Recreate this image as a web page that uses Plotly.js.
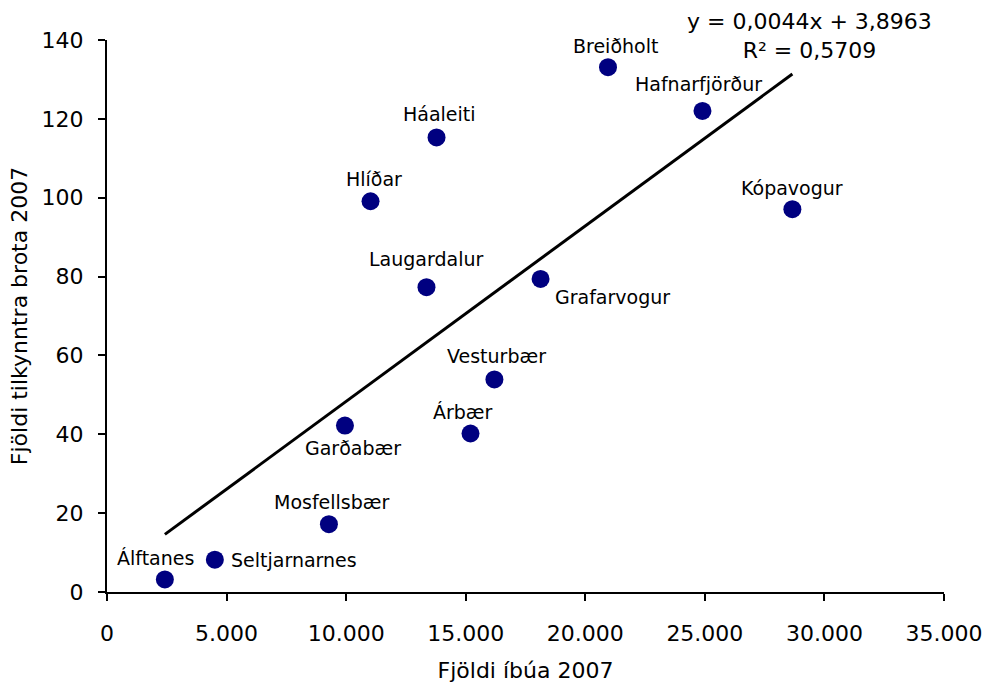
<!DOCTYPE html>
<html>
<head>
<meta charset="utf-8">
<script src="https://cdn.plot.ly/plotly-3.0.1.min.js"></script>
<style>html,body{margin:0;padding:0;background:#fff;}#chart{width:985px;height:687px;}</style>
</head>
<body>
<div id="chart"></div>
<script>
// ---- data ----
var areas = ["Álftanes","Seltjarnarnes","Mosfellsbær","Garðabær","Árbær","Vesturbær","Breiðholt","Háaleiti","Hlíðar","Laugardalur","Grafarvogur","Hafnarfjörður","Kópavogur"];
var residents = [2420, 4510, 9280, 9950, 15200, 16200, 20950, 13780, 11020, 13360, 18130, 24900, 28660];
var offences  = [3.2, 8.2, 17.2, 42.2, 40.2, 53.9, 133.1, 115.3, 99.1, 77.3, 79.4, 122.0, 97.1];
var equationText = "y = 0,0044x + 3,8963<br>R² = 0,5709";
var xTitle = "Fjöldi íbúa 2007";
var yTitle = "Fjöldi tilkynntra brota 2007";

// ---- label placement (style only) ----
var labelShift = [
  {dx:-9, dy:21.6, anchor:"center"},
  {dx:14, dy:0, anchor:"left"},
  {dx:3, dy:22, anchor:"center"},
  {dx:8, dy:-22.6, anchor:"center"},
  {dx:-8, dy:21.6, anchor:"center"},
  {dx:2, dy:23, anchor:"center"},
  {dx:7, dy:21.7, anchor:"center"},
  {dx:3, dy:23.7, anchor:"center"},
  {dx:3, dy:22.7, anchor:"center"},
  {dx:0, dy:28, anchor:"center"},
  {dx:12, dy:-18.4, anchor:"left"},
  {dx:-4, dy:26.7, anchor:"center"},
  {dx:0, dy:21.4, anchor:"center"}
];

// least-squares trendline over the data range
var n = residents.length, mx = 0, my = 0;
for (var i = 0; i < n; i++) { mx += residents[i]; my += offences[i]; }
mx /= n; my /= n;
var sxy = 0, sxx = 0;
for (var i = 0; i < n; i++) { sxy += (residents[i]-mx)*(offences[i]-my); sxx += (residents[i]-mx)*(residents[i]-mx); }
var slope = sxy/sxx, intercept = my - slope*mx;
var xMin = Math.min.apply(null, residents), xMax = Math.max.apply(null, residents);

var font = "DejaVu Sans, Verdana, sans-serif";

var traces = [
  {
    x: [xMin, xMax], y: [intercept + slope*xMin, intercept + slope*xMax],
    mode: "lines", type: "scatter",
    line: {color: "#000000", width: 3},
    hoverinfo: "skip", showlegend: false
  },
  {
    x: residents, y: offences, text: areas,
    mode: "markers", type: "scatter",
    marker: {color: "#000080", size: 18, line: {width: 0}},
    showlegend: false, cliponaxis: false
  }
];

var annotations = areas.map(function(name, i) {
  var s = labelShift[i];
  return {
    x: residents[i], y: offences[i], xref: "x", yref: "y",
    text: name, showarrow: false,
    xanchor: s.anchor, yanchor: "middle",
    xshift: s.dx, yshift: s.dy,
    font: {family: font, size: 19, color: "#000000"}
  };
});
annotations.push({
  x: 29370, y: 1.008, xref: "x", yref: "paper",
  text: equationText, showarrow: false,
  xanchor: "center", yanchor: "middle", align: "center",
  font: {family: font, size: 22, color: "#000000"}
});

var layout = {
  width: 985, height: 687,
  margin: {l: 107, r: 41, t: 40, b: 95, pad: 0},
  paper_bgcolor: "#ffffff", plot_bgcolor: "#ffffff",
  separators: ",.",
  font: {family: font, size: 22, color: "#000000"},
  showlegend: false,
  xaxis: {
    range: [0, 35000], dtick: 5000, tick0: 0, tickformat: ",d",
    showgrid: false, zeroline: false,
    showline: true, linecolor: "#000000", linewidth: 2,
    ticks: "outside", ticklen: 7, tickwidth: 2, tickcolor: "#000000",
    ticklabelstandoff: 14,
    tickfont: {family: font, size: 22, color: "#000000"},
    title: {text: xTitle, standoff: 17, font: {family: font, size: 22, color: "#000000"}},
    fixedrange: true
  },
  yaxis: {
    range: [0, 140], dtick: 20, tick0: 0,
    showgrid: false, zeroline: false,
    showline: true, linecolor: "#000000", linewidth: 2,
    ticks: "outside", ticklen: 7, tickwidth: 2, tickcolor: "#000000",
    ticklabelstandoff: 10,
    tickfont: {family: font, size: 22, color: "#000000"},
    title: {text: yTitle, standoff: 8, font: {family: font, size: 22, color: "#000000"}},
    fixedrange: true
  },
  annotations: annotations
};

Plotly.newPlot("chart", traces, layout, {displayModeBar: false, staticPlot: true});
</script>
</body>
</html>
